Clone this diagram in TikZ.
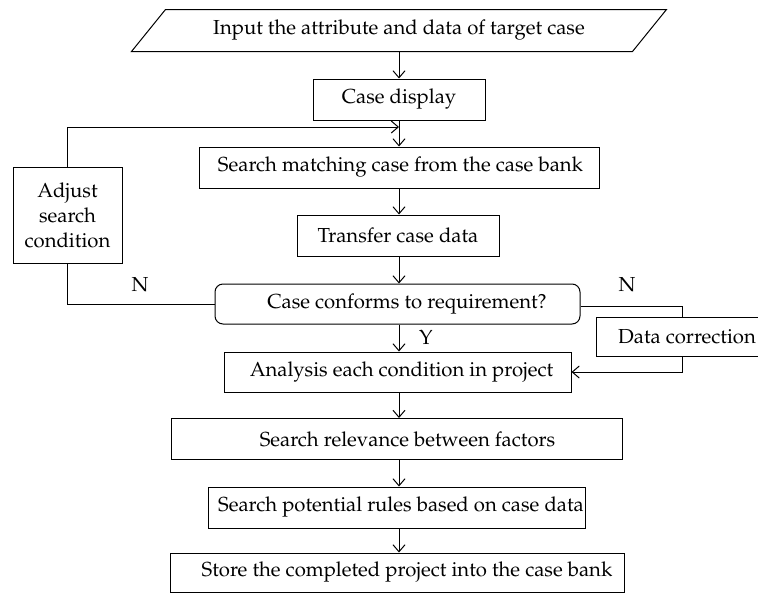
\documentclass[tikz,border=0pt]{standalone}
\usepackage[T1]{fontenc}
\renewcommand{\rmdefault}{ppl}
\usetikzlibrary{arrows.meta,calc}
\tikzset{
  box/.style={draw, line width=1pt, minimum height=41pt, inner sep=0pt, font=\fontsize{20.3}{25}\selectfont},
  decbox/.style={box, rounded corners=8pt},
  arr/.style={line width=1pt, -{Straight Barb[length=7pt,width=12pt,line width=1pt]}},
  conn/.style={line width=1pt},
  lbl/.style={inner sep=0pt, font=\fontsize{20.3}{25}\selectfont}
}
\begin{document}
\begin{tikzpicture}[x=1pt,y=-1pt]
\clip (0,0) rectangle (758,592);
\fill[white] (0,0) rectangle (758,592);
% input parallelogram
\node[box, draw=none, minimum width=500pt] (in) at (399,30.5) {Input the attribute and data of target case};
\draw[conn] ([xshift=-17pt]in.south west) -- ([xshift=17pt]in.north west) -- ([xshift=17pt]in.north east) -- ([xshift=-17pt]in.south east) -- cycle;
\node[box, minimum width=172pt] (cd) at (399,99.5) {Case display};
\node[box, minimum width=400pt] (sm) at (399,167.5) {\hspace*{3pt}Search matching case from the case bank};
\node[box, minimum width=202pt] (tr) at (398,235.5) {Transfer case data};
\node[decbox, minimum width=365pt, minimum height=40pt] (dc) at (397.5,304) {\hspace*{19pt}Case conforms to requirement?};
\node[box, minimum width=109pt, minimum height=96pt, align=center] (adj) at (67.5,215) {Adjust\\search\\condition};
\node[box, minimum width=347pt, minimum height=40pt] (an) at (397.5,372) {\hspace*{8pt}Analysis each condition in project};
\node[box, minimum width=162pt, minimum height=39pt] (cor) at (677,336.5) {\hspace*{20pt}Data correction};
\node[box, minimum width=451pt] (sr) at (396.5,439) {\hspace*{22pt}Search relevance between factors};
\node[box, minimum width=377pt] (sp) at (396.5,507.5) {\hspace*{9pt}Search potential rules based on case data};
\node[box, minimum width=454pt, minimum height=39pt] (st) at (397,572.5) {\hspace*{20pt}Store the completed project into the case bank};
% labels
\node[lbl] (nl) at (140,285) {N};
\node[lbl] (nr) at (627,285) {N};
\node[lbl] (y) at (426,337) {Y};
% coordinates
\coordinate (lp) at (399,127);
\coordinate (cx) at (682,306);
% main column
\draw[arr] (in.south) -- (cd.north);
\draw[arr] (cd.south) -- (sm.north);
\draw[arr] (sm.south) -- (sm.south |- tr.north);
\draw[arr] (tr.south -| sm.south) -- (sm.south |- dc.north);
\draw[arr] (dc.south -| sm.south) -- (sm.south |- an.north);
\draw[arr] (an.south -| sm.south) -- (sm.south |- sr.north);
\draw[arr] (sr.south -| sm.south) -- (sm.south |- sp.north);
\draw[arr] (sp.south -| sm.south) -- (sm.south |- st.north);
% loop back
\draw[conn] (dc.west) -- (dc.west -| adj.south) -- (adj.south);
\draw[arr] (adj.north) |- (lp);
% correction branch
\draw[conn] (dc.east |- cx) -- (cx) -- (cx |- cor.north);
\draw[arr] (cx |- cor.south) -- (cx |- an.east) -- (an.east);
\end{tikzpicture}
\end{document}
